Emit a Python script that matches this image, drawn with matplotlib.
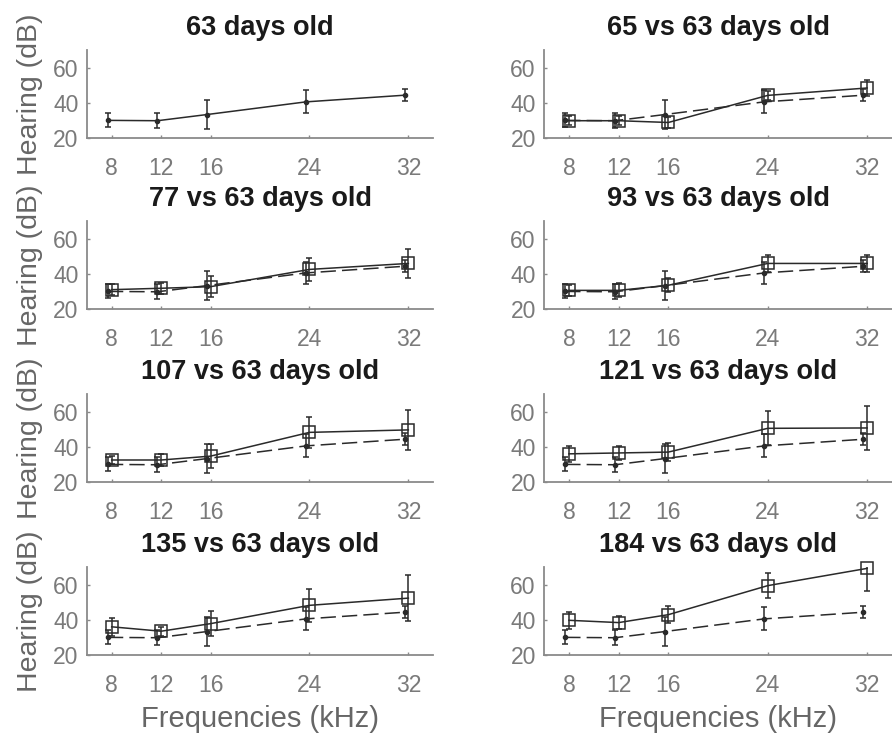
import matplotlib
matplotlib.use("Agg")
import matplotlib.pyplot as plt

plt.rcParams['font.family'] = ['Liberation Sans', 'DejaVu Sans']

# Test frequencies (kHz)
freqs = [8, 12, 16, 24, 32]
freq_ticks = [8, 12, 16, 24, 32]
db_ticks = [20, 40, 60]

# Baseline: 63 days old (mean and error)
base_mean = [30.0, 29.8, 33.3, 40.5, 44.3]
base_err = [4.0, 4.2, 8.3, 6.5, 3.5]

# Later ages (mean and error)
ages = [65, 77, 93, 107, 121, 135, 184]
mean_65 = [29.8, 29.8, 28.8, 44.2, 48.4]
err_65 = [2.5, 2.5, 3.0, 2.5, 4.5]
mean_77 = [31.0, 31.8, 32.7, 42.5, 45.9]
err_77 = [3.0, 3.0, 6.0, 6.5, 8.0]
mean_93 = [30.6, 30.6, 33.5, 45.9, 45.9]
err_93 = [3.0, 4.0, 4.0, 5.0, 5.0]
mean_107 = [32.5, 32.5, 34.7, 48.2, 49.6]
err_107 = [2.5, 3.5, 7.0, 8.7, 11.5]
mean_121 = [36.0, 36.5, 37.0, 50.5, 50.7]
err_121 = [4.5, 4.0, 5.0, 9.7, 12.5]
mean_135 = [36.0, 33.5, 37.8, 48.2, 52.3]
err_135 = [5.0, 2.5, 7.0, 9.4, 13.0]
mean_184 = [39.7, 38.4, 42.9, 59.4, 69.2]
err_184 = [5.0, 3.5, 5.0, 7.0, 12.6]

series = {
    65: (mean_65, err_65),
    77: (mean_77, err_77),
    93: (mean_93, err_93),
    107: (mean_107, err_107),
    121: (mean_121, err_121),
    135: (mean_135, err_135),
    184: (mean_184, err_184),
}

# small horizontal dodge so the two groups' bars don't overlap
BASE_SHIFT = -0.3

LINE_C = '#2a2a2a'
SPINE_C = '#8a8a8a'
TICK_C = '#7a7a7a'
LABEL_C = '#666666'
TITLE_C = '#1a1a1a'

fig = plt.figure(figsize=(8.92, 7.37), dpi=100)

col_left = [0.0975, 0.610]
col_width = [0.388, 0.390]
row_bottom = [0.8128, 0.5807, 0.346, 0.1113]
ax_h = 0.1194


def style_axes(ax, row, col):
    ax.set_xlim(6, 34)
    ax.set_ylim(20, 70)
    ax.set_xticks(freq_ticks)
    ax.set_yticks(db_ticks)
    for s in ('top', 'right'):
        ax.spines[s].set_visible(False)
    for s in ('left', 'bottom'):
        ax.spines[s].set_color(SPINE_C)
        ax.spines[s].set_linewidth(1.3)
    ax.tick_params(axis='both', direction='in', length=2.5, width=1,
                   color=SPINE_C, labelcolor=TICK_C, labelsize=16.5)
    ax.tick_params(axis='x', pad=13.5)
    ax.tick_params(axis='y', pad=6)
    if col == 0:
        ax.set_ylabel('Hearing (dB)', fontsize=20.5, color=LABEL_C)
        ax.yaxis.set_label_coords(-0.127, 0.5)
    if row == 3:
        ax.set_xlabel('Frequencies (kHz)', fontsize=21, color=LABEL_C)
        ax.xaxis.set_label_coords(0.5, -0.57)


def draw_baseline(ax, dashed):
    xs = [f + BASE_SHIFT for f in freqs]
    ax.errorbar(xs, base_mean, yerr=base_err, color=LINE_C, lw=1.1,
                elinewidth=1.1, capsize=2, capthick=1.1,
                marker='o', ms=3, mfc=LINE_C, mec=LINE_C,
                linestyle=(0, (10.0, 4.0)) if dashed else '-')


panels = [None] + ages
for i, age in enumerate(panels):
    row, col = divmod(i, 2)
    ax = fig.add_axes([col_left[col], row_bottom[row], col_width[col], ax_h])
    style_axes(ax, row, col)
    if age is None:
        draw_baseline(ax, dashed=False)
        title = '63 days old'
    else:
        draw_baseline(ax, dashed=True)
        m, e = series[age]
        ax.errorbar(freqs, m, yerr=e, color=LINE_C, lw=1.1,
                    elinewidth=1.1, capsize=2, capthick=1.1, fmt='none')
        ax.plot(freqs, m, color=LINE_C, lw=1.1, marker='s', ms=8,
                mfc='none', mec=LINE_C, mew=1.1, clip_on=False)
        title = f'{age} vs 63 days old'
    ax.set_title(title, fontsize=19.5, fontweight='bold', color=TITLE_C, pad=10.5)

fig.savefig('out.png', dpi=100)
